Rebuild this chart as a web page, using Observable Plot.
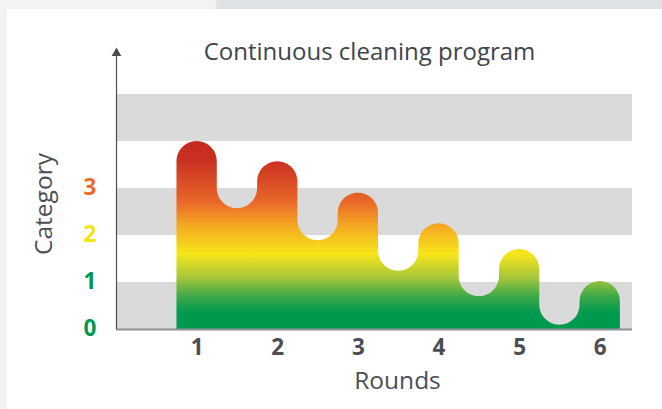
<!DOCTYPE html>
<html>
<head>
<meta charset="utf-8">
<script src="https://cdn.jsdelivr.net/npm/d3@7"></script>
<script src="https://cdn.jsdelivr.net/npm/@observablehq/plot@0.6"></script>
<style>
  html, body { margin: 0; padding: 0; }
  body { width: 662px; height: 409px; background: #f2f3f5; position: relative; overflow: hidden; }
  #band { position: absolute; left: 0; top: 0; width: 662px; height: 9px; background: #dfe2e5;
          clip-path: polygon(217px 0, 662px 0, 662px 9px, 215px 9px); }
  #card { position: absolute; left: 7px; top: 9px; width: 655px; height: 400px; background: #fff; }
  #chart { position: absolute; left: 0; top: 0; }
  #chart svg { background: transparent; }
</style>
</head>
<body>
<div id="band"></div>
<div id="card"></div>
<div id="chart"></div>
<script>
// ---- data ----
const rounds = [1, 2, 3, 4, 5, 6];
const tops = [4.0, 3.57, 2.9, 2.25, 1.7, 1.02];       // top of each rounded column
const troughs = [2.57, 1.89, 1.24, 0.70, 0.09];        // bottom of the dips between columns
const yTicks = [0, 1, 2, 3];
const yTickColors = ["#00984f", "#00984f", "#f5e312", "#ec6a2a"];
const bands = [{y1: 0, y2: 1}, {y1: 2, y2: 3}, {y1: 4, y2: 5}];
const title = "Continuous cleaning program";
const xLabel = "Rounds";
const yLabel = "Category";
const gradStops = [
  {v: 4.0, c: "#c42a20"}, {v: 3.6, c: "#c93021"}, {v: 3.17, c: "#d84a25"},
  {v: 2.7, c: "#ea6828"}, {v: 2.25, c: "#f4a323"}, {v: 1.6, c: "#f7e61a"},
  {v: 1.1, c: "#a8c63a"}, {v: 0.68, c: "#3aa84a"}, {v: 0.34, c: "#009a4e"}, {v: 0, c: "#009a4e"}
];

// ---- layout ----
const W = 662, H = 409;
const mL = 116, mR = 30, mT = 94, mB = 80;
const xDomain = [0, 6.4], yDomain = [0, 5];
const xUnit = (W - mL - mR) / (xDomain[1] - xDomain[0]);
const yUnit = (H - mT - mB) / (yDomain[1] - yDomain[0]);
const hw = 0.25;                  // half width of a column (data units)
const rx = hw, ry = rx * xUnit / yUnit;   // radius in data units so that caps are circles on screen
const N = 24;

// outline of the wavy shape (geometry from the values above)
const outline = [];
outline.push({x: rounds[0] - hw, y: 0});
rounds.forEach((c, i) => {
  const t = tops[i];
  outline.push({x: c - hw, y: t - ry});
  for (let k = 1; k < N; k++) {
    const th = Math.PI - Math.PI * k / N;
    outline.push({x: c + rx * Math.cos(th), y: t - ry + ry * Math.sin(th)});
  }
  outline.push({x: c + hw, y: t - ry});
  if (i < troughs.length) {
    const b = troughs[i], cx = c + 0.5;
    outline.push({x: c + hw, y: b + ry});
    for (let k = 1; k < N; k++) {
      const ph = Math.PI + Math.PI * k / N;
      outline.push({x: cx + rx * Math.cos(ph), y: b + ry + ry * Math.sin(ph)});
    }
    outline.push({x: cx + rx, y: b + ry});
  } else {
    outline.push({x: c + hw, y: 0});
  }
});

const font = "'Open Sans', sans-serif";
const plot = Plot.plot({
  width: W, height: H,
  marginLeft: mL, marginRight: mR, marginTop: mT, marginBottom: mB,
  style: {fontFamily: font, background: "transparent", overflow: "visible"},
  x: {domain: xDomain, axis: null},
  y: {domain: yDomain, axis: null},
  marks: [
    Plot.rect(bands, {x1: xDomain[0], x2: xDomain[1], y1: "y1", y2: "y2", fill: "#dadada"}),
    Plot.areaY(outline, {x: "x", y1: 0, y2: "y", curve: "linear", fill: "url(#waveGrad)"}),
    Plot.ruleY([0], {x1: xDomain[0], x2: xDomain[1], stroke: "#8e9195", strokeWidth: 2}),
    Plot.ruleX([0], {y1: 0, y2: 5.9, stroke: "#4a4f55", strokeWidth: 1.2}),
    Plot.dot([0], {x: 0, y: 5.88, symbol: "triangle", r: 3.6, fill: "#4a4f55", stroke: null}),
    Plot.text(rounds, {x: d => d, y: 0, dy: 18, text: d => String(d), fontSize: 22.5, fontWeight: 700, fill: "#4b4f55"}),
    Plot.text(yTicks, {x: 0, y: d => d, dx: -33, dy: -1, textAnchor: "start", text: d => String(d),
                       fontSize: 22.5, fontWeight: 700, fill: (d, i) => yTickColors[i]}),
    Plot.text([title], {frameAnchor: "top", textAnchor: "middle", lineAnchor: "middle",
                        dx: -5, dy: -42, fontSize: 24, fill: "#3d454d"}),
    Plot.text([yLabel], {frameAnchor: "left", textAnchor: "middle", lineAnchor: "middle", rotate: -90,
                         dx: -72, dy: -8, fontSize: 24.5, fill: "#4b4f55"}),
    Plot.text([xLabel], {frameAnchor: "bottom", textAnchor: "middle", lineAnchor: "middle",
                         dx: 23, dy: 52, fontSize: 24.5, fill: "#4b4f55"})
  ]
});

// vertical gradient in screen space, positioned by the y scale (value 4 -> 0)
const ys = plot.scale("y");
const svg = d3.select(plot);
const defs = svg.insert("defs", ":first-child");
const g = defs.append("linearGradient").attr("id", "waveGrad")
  .attr("gradientUnits", "userSpaceOnUse")
  .attr("x1", 0).attr("x2", 0)
  .attr("y1", ys.apply(4)).attr("y2", ys.apply(0));
gradStops.forEach(s => g.append("stop").attr("offset", (4 - s.v) / 4).attr("stop-color", s.c));

document.getElementById("chart").appendChild(plot);
</script>
</body>
</html>
